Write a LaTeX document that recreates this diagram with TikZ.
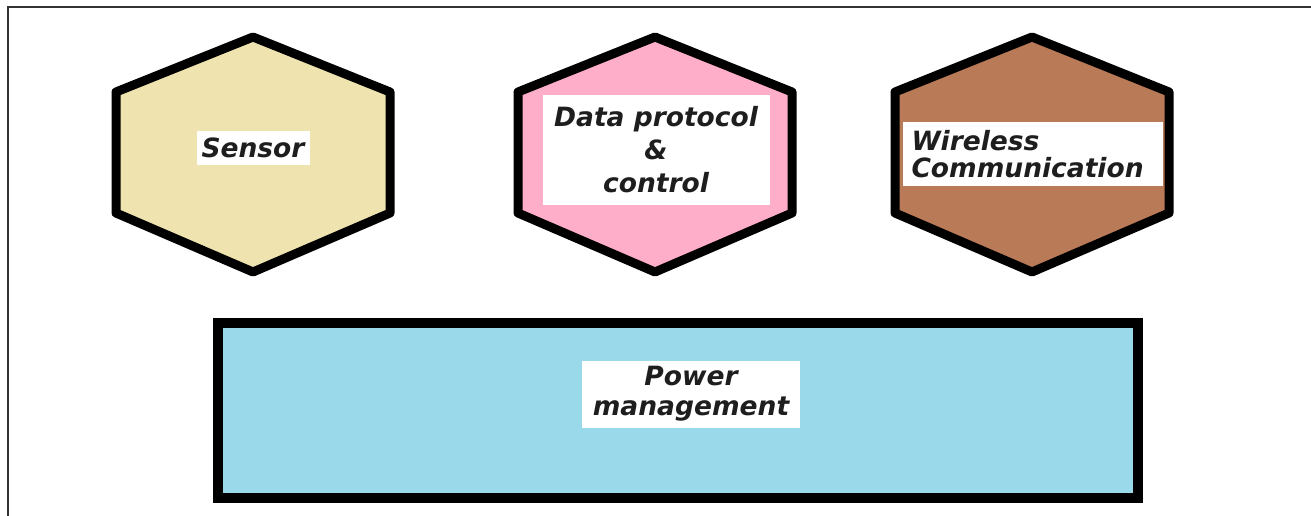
\documentclass[tikz,border=0pt]{standalone}
\usepackage{fontspec}
\setmainfont{DejaVu Sans}
\definecolor{tanfill}{HTML}{EFE4B0}
\definecolor{pinkfill}{HTML}{FFAEC9}
\definecolor{brownfill}{HTML}{B97A57}
\definecolor{bluefill}{HTML}{99D9EA}
\definecolor{framegray}{HTML}{333333}
\definecolor{inkgray}{HTML}{1E1E1E}
\tikzset{
  hexblock/.style={draw=black, line width=9pt, line join=round},
  tagbox/.style={fill=white, inner sep=0pt, text=inkgray,
    font=\fontsize{26.5}{33}\selectfont\bfseries\itshape},
  pwrblock/.style={draw=black, line width=10pt, fill=bluefill}
}
% hexagon with centre x, fill colour
\newcommand\hexblock[2]{%
  \draw[hexblock, fill=#2] (#1,37) -- (#1+137,92) -- (#1+137,213) -- (#1,272)
    -- (#1-137,213) -- (#1-137,92) -- cycle;}
\begin{document}
\begin{tikzpicture}[x=1pt, y=-1pt]
\useasboundingbox (0,0) rectangle (1311,516);
\fill[white] (0,0) rectangle (1311,516);
% page frame
\draw[framegray, line width=2pt] (8,516) -- (8,7.5) -- (1311,7.5);

\hexblock{253}{tanfill}
\hexblock{655}{pinkfill}
\hexblock{1032}{brownfill}

\node[tagbox, minimum width=113pt, minimum height=33pt] (sensor) at (253,148) {Sensor};
\node[tagbox, minimum width=227pt, minimum height=110pt, align=center] (dpc) at (656,150) {Data protocol\\\&\\control};
\node[tagbox, minimum width=260pt, minimum height=63pt, align=left, text width=243pt,
  font=\fontsize{26.5}{27}\selectfont\bfseries\itshape] (wcomm) at (1033,154) {Wireless\\Communication};

\draw[pwrblock] (218,323) rectangle (1138,498);
\node[tagbox, minimum width=218pt, minimum height=67pt, align=center,
  font=\fontsize{26.5}{30}\selectfont\bfseries\itshape] (power) at (691,394) {Power\\management};
\end{tikzpicture}
\end{document}
